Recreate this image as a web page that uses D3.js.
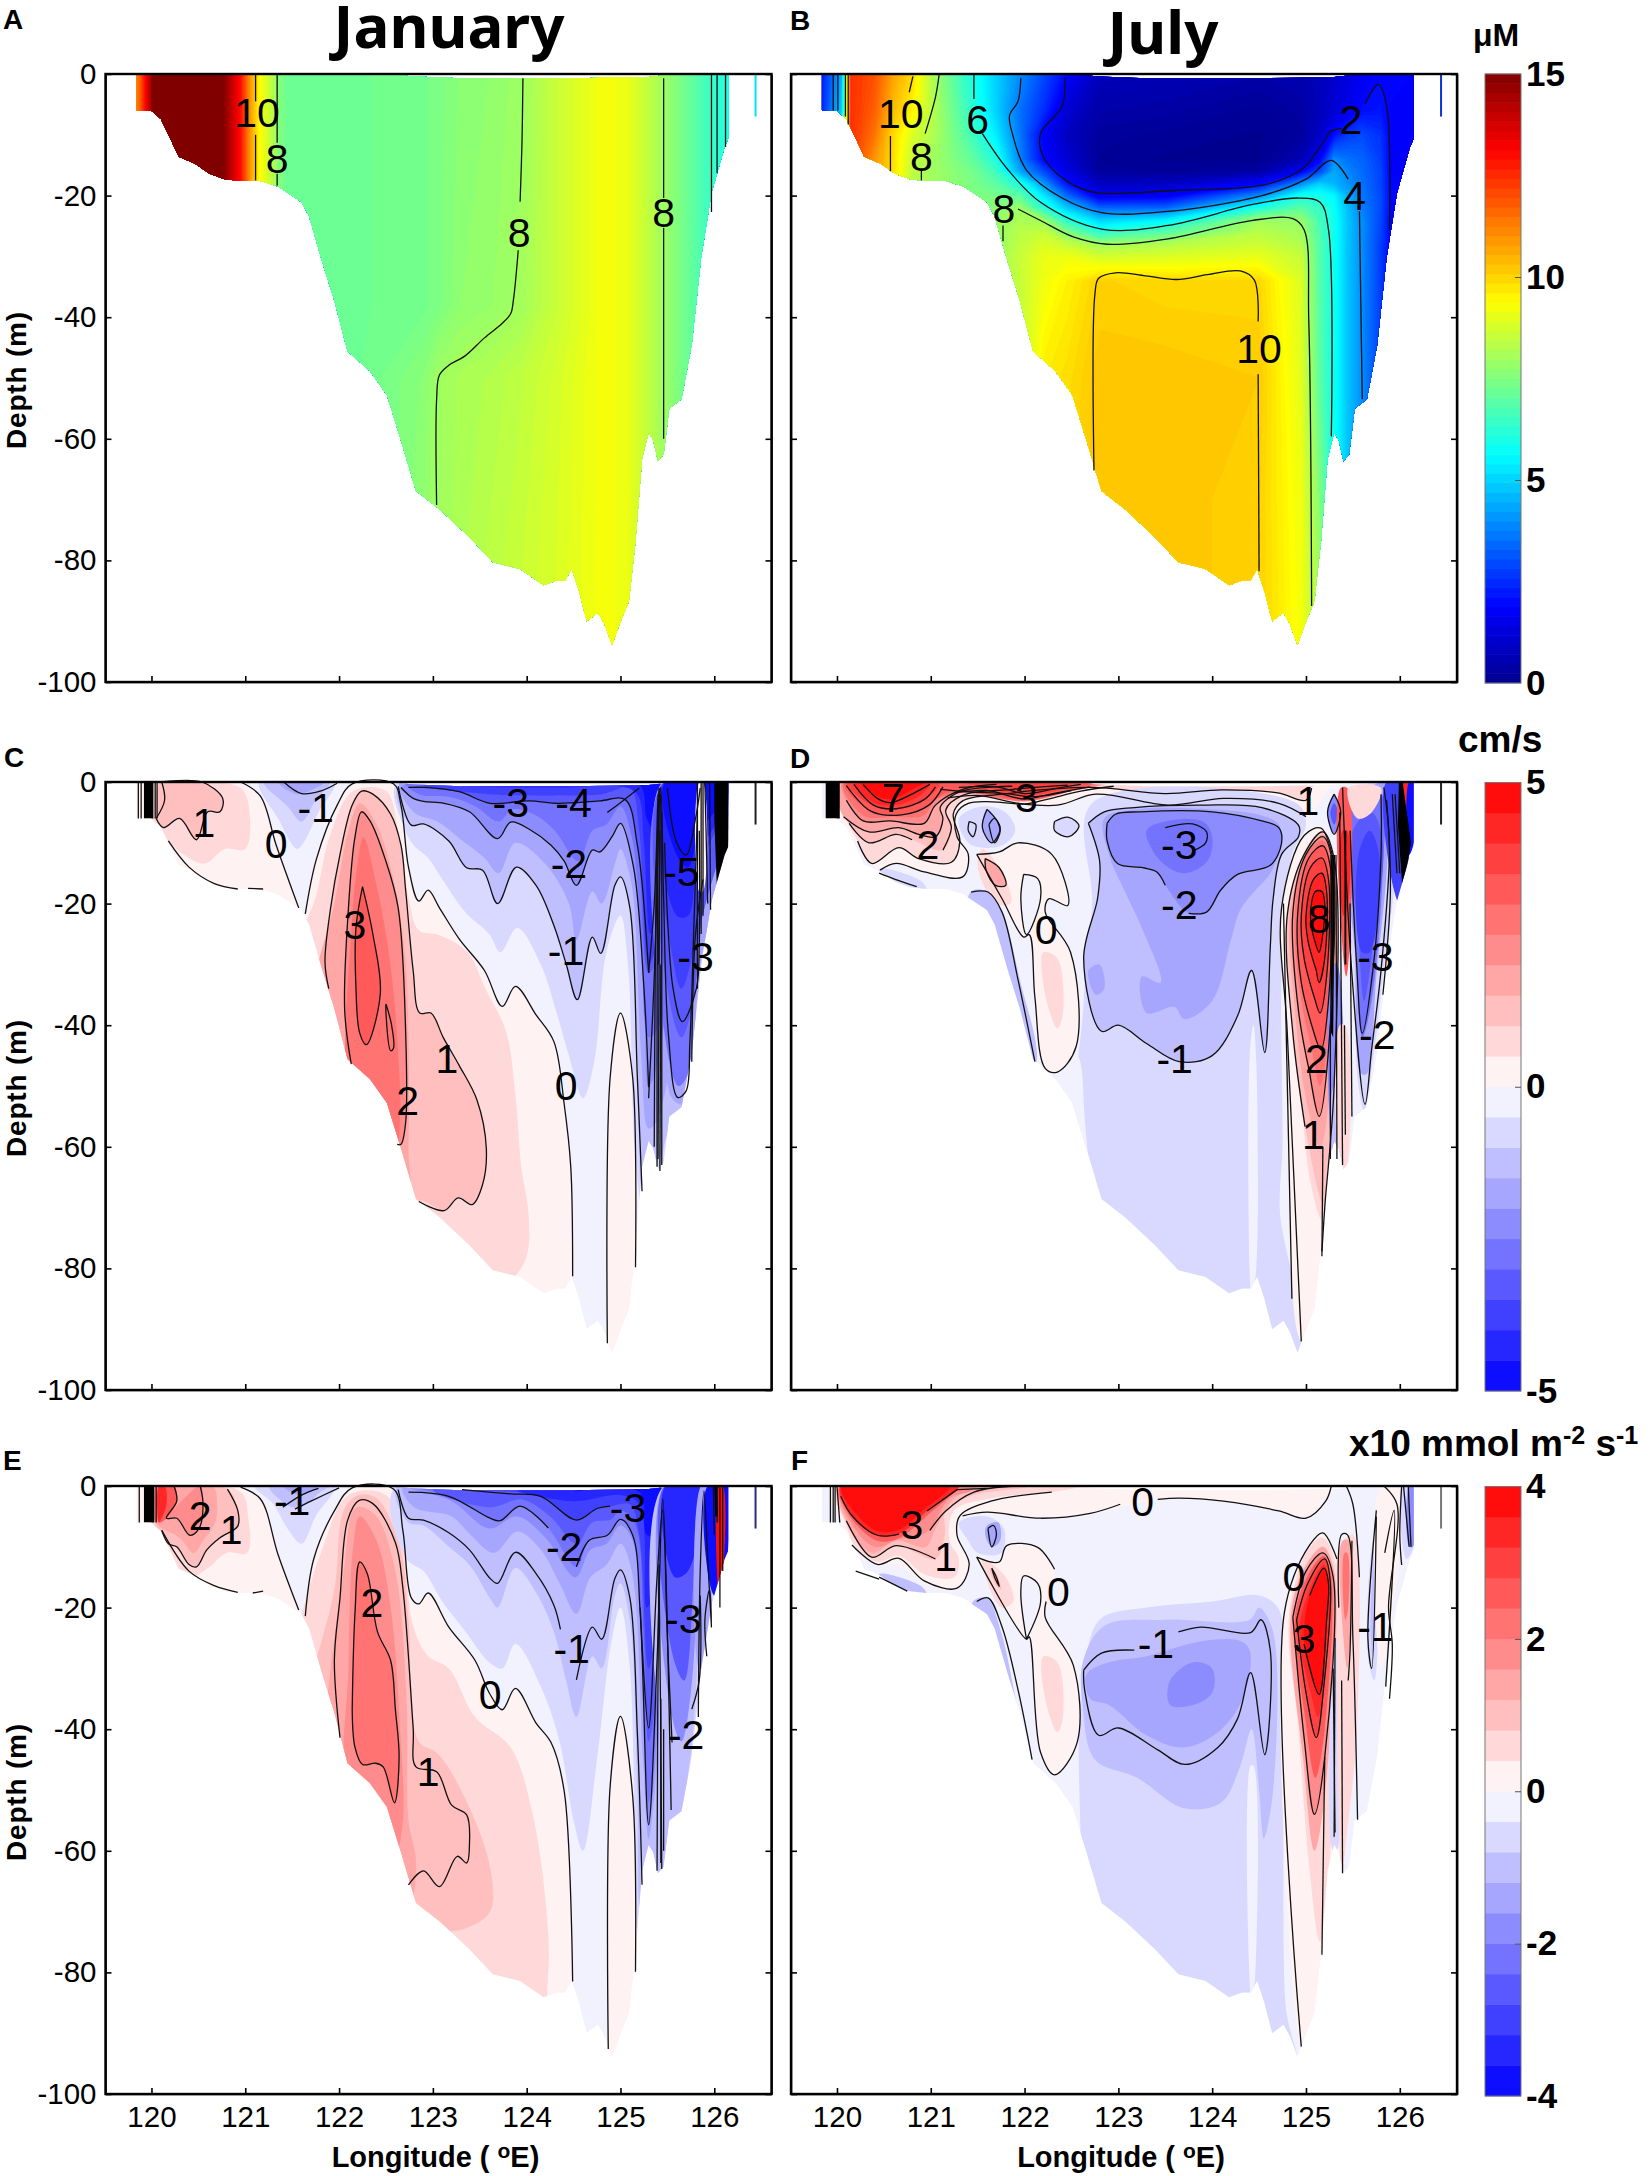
<!DOCTYPE html>
<html>
<head>
<meta charset="utf-8">
<script src="https://d3js.org/d3.v7.min.js"></script>
<style>
body { margin: 0; background: #fff; }
text { font-family: "Liberation Sans", Arial, sans-serif; fill: #000; }
</style>
</head>
<body>
<svg id="fig" width="1650" height="2176"></svg>
<script>
// --- axes
var lonExtent = [119.51, 126.61];
var depthExtent = [-100, 0];
var lonTicks = [120, 121, 122, 123, 124, 125, 126];
var depthTicks = [0, -20, -40, -60, -80, -100];

// --- seabed outline of the section (lon, depth)
var bathy = [[119.84,0],[119.84,-6],[119.995,-6],[120.1,-7.4],[120.2,-10.6],[120.29,-13.6],[120.46,-14.7],[120.62,-16.4],[120.78,-17.3],[120.95,-17.6],[121.16,-17.6],[121.35,-18.5],[121.6,-21.1],[121.68,-23.4],[121.82,-30.9],[121.95,-37.3],[122.09,-45.6],[122.33,-48.9],[122.51,-52.8],[122.66,-60.3],[122.82,-68.6],[123.07,-71.6],[123.39,-76.2],[123.64,-80.3],[123.93,-81.4],[124.18,-84.1],[124.32,-83.3],[124.41,-83.3],[124.48,-81.4],[124.56,-85.2],[124.64,-90],[124.76,-88.6],[124.83,-90.5],[124.91,-93.9],[124.99,-90.5],[125.09,-86.7],[125.16,-76.9],[125.23,-63.3],[125.3,-59],[125.35,-60.3],[125.4,-63.7],[125.46,-62.6],[125.52,-55],[125.65,-53.5],[125.76,-44.5],[125.86,-30.2],[125.97,-19.6],[126.11,-12],[126.15,-10.6],[126.15,0],[125.6,0],[125.3,-0.5],[124.5,-0.7],[123.3,-0.7],[122.8,-0.4],[122.5,0]];

// --- panel A nitrate grid
var aLon = [119.8,119.88,119.95,120.03,120.72,120.8,120.95,121.05,121.15,121.3,121.36,121.45,122.2,122.9,123.04,123.3,123.6,123.95,124.3,124.8,125.05,125.3,125.46,125.7,125.9,126.2];
var aDepth = [0,-38,-50,-95];
var aValues = [
 [11,11.8,13.5,15.5,15.5,14.7,13,11,9.5,8.3,7.6,7.3,7.3,7.4,7.5,7.7,7.8,8,8.6,9.3,9.2,8.5,8,7.3,6.7,6],
 [11,11.8,13.5,15.5,15.5,14.7,13,11,9.5,8.3,7.6,7.3,7.3,7.4,7.5,7.8,7.9,8.1,8.6,9.3,9.2,8.5,8,7.3,6.7,6],
 [11,11.8,13.5,15.5,15.5,14.7,13,11,9.5,8.3,7.6,7.3,7.3,7.7,8,8.2,8.3,8.5,8.8,9.3,9.2,8.5,8,7.3,6.7,6],
 [11,11.8,13.5,15.5,15.5,14.7,13,11,9.5,8.3,7.6,7.3,7.3,7.9,8,8.3,8.5,8.7,8.9,9.3,9.2,8.5,8,7.3,6.7,6]
];
// --- panel B nitrate grid
var bLon = [119.8,120.05,120.15,120.4,120.6,120.8,121.05,121.45,121.7,121.95,122.2,122.45,122.8,123.5,124.5,124.95,125.15,125.3,125.45,125.6,125.8,125.9,126.2];
var bDepth = [0,-6,-10,-14,-16,-18,-20,-22,-24,-26,-28,-30,-34,-50,-70,-95];
var bValues = [
 [1.9,4.5,12.5,12,10.8,10,8,6,5,4,3,2,0.8,0.7,0.5,0.6,0.8,1.1,1.4,1.7,2,2,1.9],
 [2,5,12.5,11.8,10.4,9.6,8.2,6.3,5,3.6,2.6,1.2,0.5,0.4,0.2,0.4,0.8,1.2,1.6,2.1,2.2,1.9,1.8],
 [2,8,12.5,11.5,10,8.9,8.2,6.6,5.4,3.7,1.9,0.9,0.3,0.2,0.1,0.3,1,2.1,2.8,3,2.6,1.9,1.8],
 [2,8,12.5,11,9.9,8.6,8,7.1,6.1,3.9,2,1.2,0.2,0.1,0.1,0.7,1.9,4,3.6,3.4,2.8,1.9,1.8],
 [2,8,12.5,11,9.9,8.5,8,7.4,6.6,4.4,3,1.5,0.3,0.2,0.4,1.8,3,4.4,3.9,3.5,2.9,1.9,1.8],
 [2,8,12.5,11,9.8,8.4,8,7.5,7,6.1,4.2,2.2,0.9,0.9,1.9,4,5,4.6,4.1,3.6,2.9,2,1.9],
 [2,8,12.5,11,9.8,8.4,8,7.6,7.4,7,5.4,3.5,1.6,1.7,4,6,6,5.6,4.5,3.7,3,2,1.9],
 [2,8,12.5,11,9.8,8.4,8,7.7,7.7,8,6.3,4.9,3.4,3.4,6.1,7,6.5,5.8,4.7,3.8,3,2,1.9],
 [2,8,12.5,11,9.8,8.4,8,7.8,7.9,8.2,8,6.3,5,5.5,8,7.9,6.7,5.9,4.8,4,2.9,2,1.9],
 [2,8,12,11,9.8,8.4,8,7.9,7.9,8.4,8.6,7.6,6.3,7,8.4,8.1,6.8,5.9,4.8,4,2.9,2,1.9],
 [2,8,12,11,9.8,8.4,8,8,7.9,8.5,8.9,8.6,8,8.3,8.7,8.3,6.9,5.9,4.8,4,2.8,2,1.9],
 [2,8,12,11,9.8,8.4,8,8,8,8.6,9.1,9.2,8.8,8.9,9.1,8.6,6.9,5.9,4.8,4,2.8,2,1.9],
 [2,8,12,11.5,10,9,8,8,8,8.6,9.2,9.6,10.1,10,10,8.9,6.9,5.9,4.8,4,2.8,2,1.9],
 [2,8,12,11.5,10,9,8,8,8,8.6,9.7,9.9,10.3,10.3,10.2,9,7,5.9,4.8,4,2.8,2,1.9],
 [2,8,12,11.5,10,9,8,8,8,8.6,9.7,10,10.3,10.3,10.1,9.2,7.6,5.9,4.8,4,2.8,2,1.9],
 [2,8,12,11.5,10,9,8,8,8,8.6,9.7,10,10.3,10.3,10.1,9.3,8.2,6,4.8,4,2.8,2,1.9]
];

// --- contour lines, panel A
var linesA = [
 [[121.11,0],[121.11,-4.5]],[[121.11,-10],[121.11,-17.5]],
 [[121.34,0],[121.34,-11.3]],[[121.34,-16.4],[121.34,-18.4]],
 [[123.96,-0.7],[123.95,-11.3],[123.93,-21]],
 [[123.91,-29],[123.86,-37],[123.83,-39.4],[123.74,-41],[123.55,-43.4],[123.34,-46.4],[123.17,-47.9],[123.07,-49.5],[123.04,-53.5],[123.04,-70.9]],
 [[125.46,-0.7],[125.46,-20.4]],[[125.46,-25.3],[125.46,-60]],
 [[125.97,0],[125.97,-22.7]],[[126.03,0],[126.03,-16.3]],[[126.12,0],[126.12,-12]]
];
var labelsA = [["10",121.125,-6.4],["8",121.34,-13.95],["8",123.92,-26.2],["8",125.46,-22.8]];

// --- contour lines, panel B
var linesB = [
 [[119.96,0],[119.96,-6]],[[120.01,0],[120.01,-6]],[[120.09,0],[120.09,-7]],[[120.12,0],[120.12,-8.3]],
 [[120.81,-0.4],[120.77,-3]],[[120.57,-10.2],[120.57,-16]],
 [[121.09,0],[121.05,-3.8],[120.94,-9.8]],[[120.9,-15.8],[120.9,-17.5]],
 [[121.46,0],[121.46,-4.1]],
 [[121.55,-9.8],[121.81,-15.5],[122.17,-21.1],[122.82,-25.5],[123.53,-24.9],[124.42,-21.5],[124.92,-20.4],[125.15,-21.1],[125.24,-25.6],[125.27,-59.6]],
 [[121.96,-0.6],[121.93,-4.5],[121.84,-6.8],[121.87,-9.8],[122.02,-15.8],[122.4,-20.4],[122.82,-22.8],[123.53,-22.6],[124.53,-20],[125,-17.3],[125.27,-14.2],[125.45,-17.3]],
 [[125.57,-22.6],[125.6,-53.5]],
 [[122.43,-0.6],[122.4,-5.3],[122.17,-9.8],[122.2,-13.6],[122.46,-17.7],[122.76,-19.5],[123.53,-19.2],[124.59,-18.1],[124.97,-15.5],[125.15,-12],[125.27,-9.4],[125.38,-9]],
 [[125.63,-4.9],[125.77,-1.7],[125.86,-5.3],[125.89,-25.6]],
 [[121.77,-24.9],[121.77,-27.5]],
 [[121.93,-22.2],[122.17,-24.1],[122.52,-26.8],[122.88,-28],[123.53,-27.1],[124.42,-24.1],[124.86,-23.8],[124.98,-25.6],[125.03,-40.7],[125.06,-87.5]],
 [[122.74,-65.2],[122.75,-36.2],[122.79,-33.6],[122.97,-32.7],[123.29,-33.2],[123.62,-33.8],[123.95,-33],[124.3,-32.4],[124.45,-33.9],[124.49,-40.7]],
 [[124.49,-49.4],[124.5,-81.8]]
];
var labelsB = [["10",120.68,-6.6],["8",120.9,-13.6],["6",121.5,-7.5],["8",121.78,-22.2],["2",125.48,-7.6],["4",125.52,-20],["10",124.5,-45.3]];

// --- panel C contours
var cZero1 = [[120.95,0],[121.16,-2.3],[121.33,-10.4],[121.57,-20.7]];
var cZero2 = [[121.64,-21.7],[121.76,-12.6],[121.98,-3.8],[122.14,-0.3],[122.58,-0.3],[122.66,-3.8],[122.74,-14],[122.85,-19.6],[122.95,-17.8],[123.07,-20.7],[123.28,-25.8],[123.55,-31],[123.74,-36.9],[123.88,-33.6],[124.1,-38.3],[124.29,-42.7],[124.4,-53],[124.47,-63.3],[124.49,-81.3]];
var cZero3 = [[124.86,-92.3],[124.89,-48.6],[125,-38],[125.13,-48.6],[125.16,-79.8]];
var cPos1 = [[121.89,-34],[121.85,-29.6],[121.91,-20.7],[122.01,-11.9],[122.14,-3.8],[122.24,-1.5],[122.36,-2],[122.55,-5.3],[122.66,-10.4],[122.71,-17.8],[122.79,-31],[122.86,-38],[122.98,-38],[123.11,-42],[123.28,-46.6],[123.47,-52.3],[123.57,-60.3],[123.53,-66.2],[123.42,-69.5],[123.27,-68.4],[123.12,-70.5],[122.85,-69]];
var cPos2 = [[122.13,-46.4],[122.06,-37.6],[122.1,-20.7],[122.17,-9],[122.24,-4.9],[122.33,-6.4],[122.49,-12.6],[122.63,-20.7],[122.71,-41.3],[122.71,-56],[122.66,-59.6],[122.62,-59.6]];
var cPos3 = [[122.25,-17.2],[122.18,-24],[122.18,-33.9],[122.22,-41.3],[122.29,-43.2],[122.44,-34.7],[122.36,-25],[122.25,-17.2]];
var cPos3b = [[122.5,-36.5],[122.56,-40],[122.58,-43.8],[122.55,-44.2],[122.5,-38],[122.5,-36.5]];
var cLeft1 = [[120.1,0],[120.54,0],[120.76,-2.7],[120.73,-4.9],[120.6,-4.9],[120.48,-9.5],[120.3,-6],[120.13,-7.5],[120.05,-6]];
var cNegA = [[122.74,-0.9],[122.9,-0.9],[123.28,-1.6],[123.61,-3.5],[124.02,-3.1],[124.34,-3.5],[124.78,-3.1],[125.05,-2.9],[125.18,-10.4],[125.3,-31.4]];
var cNegB = [[122.66,-0.9],[122.79,-2.7],[122.9,-3.2],[123.12,-3.5],[123.39,-4.9],[123.69,-9.3],[123.83,-6.6],[124.04,-7.9],[124.26,-10.4],[124.4,-13],[124.53,-17],[124.7,-11.2],[124.78,-11.5],[124.91,-9],[125,-6.8],[125.14,-14.1],[125.25,-33.9],[125.3,-50.2]];
var cNegC = [[122.63,-0.7],[122.77,-7.1],[122.9,-6.9],[123.17,-9.7],[123.36,-14.1],[123.53,-14.5],[123.69,-20],[123.89,-14],[124.1,-17],[124.29,-23.6],[124.42,-29.9],[124.54,-35.8],[124.7,-25.5],[124.79,-28.2],[124.94,-17],[125,-15.6],[125.1,-20.7],[125.18,-48.6],[125.23,-67.3]];

var bandsC = [
 [0.25,[[119.8,0],[120.95,0],[121.16,-2.3],[121.33,-10.4],[121.57,-20.7],[121.57,-25],[119.8,-25]]],
 [0.25,[[121.6,-100],[121.64,-21.7],[121.76,-12.6],[121.98,-3.8],[122.14,-0.3],[122.58,-0.3],[122.66,-3.8],[122.74,-14],[122.85,-19.6],[122.95,-17.8],[123.07,-20.7],[123.28,-25.8],[123.55,-31],[123.74,-36.9],[123.88,-33.6],[124.1,-38.3],[124.29,-42.7],[124.4,-53],[124.47,-63.3],[124.49,-81.3],[124.49,-100]]],
 [0.25,[[124.86,-100],[124.86,-92.3],[124.89,-48.6],[125,-38],[125.13,-48.6],[125.16,-79.8],[125.16,-100]]],
 [0.75,[[120.2,0],[120.95,-1],[121.05,-6],[121,-11],[120.78,-11],[120.57,-13.4],[120.35,-12],[120.13,-9],[120,-6],[120,0]]],
 [1.25,cLeft1],
 [0.75,[[121.5,-30],[121.75,-19],[121.9,-9],[122.15,-1.5],[122.5,-1.5],[122.63,-8],[122.74,-19],[122.85,-24.4],[123.07,-25.2],[123.37,-28],[123.56,-34],[123.78,-41],[123.88,-51.5],[123.94,-63],[124.02,-71],[124,-78],[123.8,-83],[123,-100],[121.5,-100]]],
 [1.25,cPos1.concat([[122.6,-100],[121.6,-100],[121.6,-34]])],
 [1.75,[[121.7,-36],[121.95,-20],[122.1,-8],[122.22,-3.5],[122.4,-7],[122.58,-16],[122.7,-28],[122.74,-42],[122.74,-60],[122.7,-72],[121.7,-72]]],
 [2.25,cPos2.concat([[122,-60]])],
 [2.75,[[122.1,-50],[122.13,-25],[122.2,-13],[122.26,-9],[122.4,-17],[122.52,-27],[122.6,-38],[122.65,-55],[122.6,-60],[122.4,-60]]],
 [3.25,cPos3],
 // blues, shelf patch near the surface
 [-0.75,[[121.15,0],[121.35,-6],[121.55,-11],[121.62,-10],[121.78,-5],[121.95,0]]],
 [-1.25,[[121.2,0],[121.45,-4],[121.6,-6.5],[121.75,-3],[121.9,0]]],
 [-1.75,[[121.35,0],[121.55,-2],[121.75,-1],[121.85,0]]],
 // blues
 [-0.75,[[122.62,0],[122.68,-7],[122.8,-10.5],[122.95,-12.5],[123.1,-16],[123.35,-21.5],[123.6,-25],[123.72,-28],[123.9,-24],[124.15,-30],[124.32,-38],[124.45,-45],[124.6,-52],[124.72,-46],[124.85,-28],[125,-22],[125.08,-30],[125.15,-60],[125.23,-70],[125.3,-62],[125.36,-64],[125.4,-66],[125.5,-62],[125.7,-55],[125.9,-30],[126.15,-10],[126.15,0]]],
 [-1.25,cNegC.concat([[125.3,-62],[125.42,-62],[125.5,-58],[125.7,-55],[125.88,-28],[126.15,-10],[126.15,0]])],
 [-1.75,[[122.65,0],[122.8,-5],[123.05,-6.5],[123.3,-9.5],[123.55,-12.5],[123.7,-15],[123.88,-10],[124.2,-13.5],[124.45,-20],[124.53,-26],[124.7,-18],[124.8,-20],[124.95,-13],[125,-11],[125.12,-17],[125.22,-45],[125.3,-57],[125.41,-55],[125.41,0]]],
 [-2.25,cNegB.concat([[125.41,-45],[125.41,0]])],
 [-2.75,[[122.7,0],[122.85,-2],[123.2,-2.5],[123.45,-4],[123.7,-6.5],[123.85,-4.5],[124.1,-5.5],[124.3,-8],[124.55,-13],[124.7,-8],[124.85,-7],[125,-4],[125.12,-9],[125.22,-25],[125.3,-42],[125.41,-40],[125.41,0]]],
 [-3.25,cNegA.concat([[125.41,-28],[125.41,0]])],
 [-3.75,[[122.9,-0.7],[123.6,-2],[124.3,-2.2],[124.8,-2],[125.1,-1],[125.2,-8],[125.3,-30],[125.41,-25],[125.41,0]]],
 [-4.25,[[123.3,-0.7],[124.4,-0.9],[125,-0.7],[125.18,-2],[125.25,-10],[125.32,-25],[125.41,-20],[125.41,0]]],
 [-4.75,[[124.3,-0.5],[125.2,-0.5],[125.28,-6],[125.36,-8],[125.41,-6],[125.41,0]]],
 [-1.75,[[125.45,0],[125.48,-30],[125.55,-52],[125.7,-53],[125.85,-30],[126.15,-10],[126.15,0]]],
 [-2.75,[[125.46,0],[125.52,-46],[125.62,-50],[125.72,-48],[125.78,-30],[125.9,-15],[126.15,-8],[126.15,0]]],
 [-3.25,[[125.46,0],[125.55,-38],[125.65,-42],[125.78,-36],[125.85,-24],[126.15,-6],[126.15,0]]],
 [-3.75,[[125.47,0],[125.57,-30],[125.65,-34],[125.8,-26],[125.9,-12],[126.15,-4],[126.15,0]]],
 [-4.25,[[125.47,0],[125.6,-22],[125.72,-22],[125.84,-12],[126.15,-3],[126.15,0]]],
 [-4.75,[[125.48,0],[125.6,-12],[125.72,-14],[125.85,-8],[126.15,-2],[126.15,0]]],
 [0.25,[[125.84,0],[125.88,0],[125.88,-18],[125.84,-18]]]
];
var darkC = [
 [[119.92,0],[120.02,0],[120.02,-6],[119.92,-6]],
 [[126,0],[126.15,0],[126.15,-10.6],[126.03,-18.5],[126,-6]]
];
var linesC = [
 cZero1,cZero2,cZero3,cPos1,cPos2,cPos3,cPos3b,cNegA,cNegB,cNegC,cLeft1,
 [[120.18,-9.7],[120.4,-14],[120.67,-16.7],[120.92,-17.6]],[[121.03,-17.5],[121.19,-17.6]],
 [[120.11,0],[120.14,-3],[120.05,-6]],
 [[121.41,0],[121.6,-1.9],[121.8,-1.5],[121.98,-0.2]],
 [[119.86,0],[119.86,-6]],[[119.89,0],[119.89,-6]],[[120.04,0],[120.04,-6]],[[120.06,0],[120.06,-6]],
 [[125.39,-63.3],[125.41,-4.6],[125.43,-0.9],[125.46,-19.2],[125.51,-41.3],[125.61,-51.9],[125.7,-50.8],[125.74,-42.7],[125.78,-25],[125.82,-5]],
 [[125.36,-60],[125.39,-10],[125.42,-1]],[[125.44,-63],[125.44,-5]],[[125.42,-64],[125.43,-30]],[[125.4,-62],[125.42,-8]],[[125.405,-30],[125.425,-2]],
 [[125.47,-10],[125.56,-33.9],[125.66,-39.4],[125.81,-33.9],[125.84,-26.6],[125.84,-8]],
 [[125.3,-31.4],[125.36,-20],[125.4,-2]],[[125.3,-52],[125.37,-28],[125.41,-1]],
 [[125.82,0],[125.82,-34]],[[125.86,0],[125.86,-25]],[[125.88,0],[125.88,-22]],[[125.9,0],[125.93,-20]],[[125.95,0],[125.96,-21]],[[125.76,-46],[125.8,-25],[125.88,-16]],[[125.5,-1],[125.6,-10],[125.7,-12],[125.8,-6],[125.85,-1]],
 [[124.86,-5],[124.95,-4],[125.2,-1]]
];
var labelsC = [["1",120.56,-6.8],["0",121.33,-10.2],["-1",121.75,-4.2],["3",122.17,-23.6],["2",122.73,-52.5],["1",123.15,-45.5],["0",124.42,-50],["-3",123.83,-3.5],["-4",124.5,-3.5],["-2",124.45,-13.5],["-1",124.42,-27.8],["-5",125.65,-14.8],["-3",125.8,-28.8]];

// --- panel D contours
var dZeroTop = [[120.46,-14.5],[120.63,-13.4],[120.93,-14.8],[121.34,-15.6],[121.4,-11.9],[121.28,-9],[121.27,-5.3],[121.4,-3.5],[122.35,-3.8],[122.76,-2],[123.53,-3.8],[124.12,-2.7],[124.71,-3.5],[125,-5.7]];
var dW1 = [[120.22,-9.7],[120.37,-13.4],[120.66,-10.8],[120.87,-12.6],[121.22,-13.2],[121.31,-9.7],[121.24,-5.3],[121.34,-3.1],[121.76,-2],[122.7,-0.9],[123.5,-1.9],[124.1,-1.3],[124.7,-1.8],[125,-3],[125.06,-1]];
var dW2 = [[120.13,-6.8],[120.34,-10],[120.63,-8.6],[120.8,-9.5]];
var dW2b = [[121.13,-11.2],[121.22,-7.5],[121.16,-4.6],[121.34,-2.2],[121.87,-1.2],[122.46,-0.5]];
var dW3 = [[120.07,-5.7],[120.34,-8.2],[120.66,-7.5],[120.87,-8.6],[121.05,-9],[121.13,-6],[121.1,-4.2],[121.31,-1.6],[121.87,-0.7]];
var dW4 = [[120.1,-3],[120.28,-6.4],[120.57,-6.4],[120.93,-6.8],[121.05,-3.8],[121.34,-1.2],[121.7,-0.4]];
var dA1 = [[120.1,-0.6],[120.36,-4.8],[120.69,-5.4],[120.98,-3.8],[121.13,-0.8]];
var dA2 = [[120.18,-0.4],[120.39,-3.8],[120.63,-4.4],[120.93,-2.9],[121.05,-0.8]];
var dA3 = [[120.28,-0.4],[120.43,-2.7],[120.57,-3.4],[120.81,-1.9],[120.99,-0.4]];
var dS1 = [[121.18,-2.6],[121.5,-2.2],[122,-3.6],[122.25,-2.8],[122.6,-1.5],[122.95,-0.7]];
var dS2 = [[121.25,-1.8],[121.6,-1.4],[122,-2.8],[122.3,-1.9],[122.7,-0.8]];
var dS3 = [[121.3,-0.9],[121.7,-0.8],[122,-1.9],[122.35,-1],[122.6,-0.4]];
var dS4 = [[121.1,-1.2],[121.4,-1.6],[121.8,-1.9],[122.1,-2.4],[122.5,-1.4]];
var dPosPatch = [[121.49,-11.9],[121.73,-11.5],[121.93,-10],[122.29,-11.9],[122.46,-20.3],[122.26,-19.2],[122.22,-21.4],[122.49,-28],[122.55,-43.5],[122.35,-47.7],[122.22,-47.1],[122.11,-35.4],[122.05,-25.1],[121.99,-25.5],[121.76,-19.2],[121.49,-11.9]];
var dHole = [[121.99,-15.2],[122.14,-15.9],[122.17,-19.2],[122.02,-25.1],[121.96,-19.2],[121.99,-15.2]];
var dNeg1 = [[122.68,-6.8],[122.85,-4.9],[123.17,-4.2],[123.88,-3.8],[124.53,-4.2],[124.92,-7.1],[124.92,-9],[124.74,-11.9],[124.65,-19.2],[124.62,-27],[124.56,-44.5],[124.42,-31],[124.27,-38.5],[124.0,-45],[123.65,-46],[123.3,-43],[123,-40],[122.82,-41],[122.63,-29],[122.78,-19],[122.8,-13],[122.68,-6.8]];
var dNeg2 = [[122.88,-6.8],[122.97,-5.3],[123.23,-4.9],[124,-4.9],[124.53,-6.4],[124.71,-7.5],[124.74,-10],[124.62,-13.7],[124.27,-15.2],[124.09,-17.8],[123.94,-21.4],[123.75,-21.6]];
var dNeg2b = [[123.5,-17],[123.41,-14.8],[123.26,-14.1],[122.99,-13.4],[122.88,-9.7],[122.88,-6.8]];
var dNeg3 = [[123.5,-7.5],[123.79,-6.9],[123.94,-8.2],[123.93,-10],[123.8,-11.3]];
var dOval0 = [[124.95,-92],[124.8,-41],[124.74,-20.7],[124.98,-8.8],[125.16,-7.6],[125.28,-12]];
var dOval1 = [[124.99,-56.7],[124.86,-41.3],[124.8,-22],[124.98,-11.9],[125.18,-8.2],[125.3,-12.6],[125.3,-50],[125.2,-70],[125.17,-77.2]];
var dOval2 = [[125.04,-47.9],[124.92,-37.6],[124.86,-21.4],[125,-11.9],[125.18,-9],[125.28,-13],[125.25,-42],[125.14,-55],[125.04,-47.9]];
var dOval3 = [[125.08,-41],[124.95,-33],[124.91,-22],[125.03,-12.5],[125.18,-10.5],[125.26,-14],[125.24,-36],[125.16,-44],[125.08,-41]];
var dOval4 = [[125.1,-36],[124.98,-29],[124.95,-22],[125.05,-14],[125.17,-12.5],[125.24,-16],[125.22,-32],[125.15,-38],[125.1,-36]];
var dOval5 = [[125.11,-31],[125.02,-26],[125,-22],[125.08,-16],[125.17,-15],[125.22,-18],[125.2,-29],[125.14,-33],[125.11,-31]];
var dOval6 = [[125.11,-27],[125.06,-24],[125.05,-21],[125.1,-18],[125.17,-18],[125.2,-20],[125.18,-25],[125.14,-28],[125.11,-27]];
var dBlueTop = [[125.3,-2],[125.37,-4.9],[125.3,-8.6],[125.23,-4.9],[125.3,-2]];
var dValley1 = [[125.39,-0.9],[125.48,-29.5],[125.63,-53],[125.7,-44],[125.8,-31],[125.89,-10.4],[125.83,-0.9]];
var dValley2 = [[125.47,-8],[125.54,-30],[125.6,-41.3],[125.72,-30],[125.8,-12],[125.8,-2]];

var bandsD = [
 [0.25,[[119.95,0],[119.95,-6],[120.2,-10],[120.46,-14.5]].concat(dZeroTop.slice(1),[[125.2,-2],[125.25,0]])],
 [0.75,[[120,0],[120.1,-6]].concat(dW1,[[125.1,0]])],
 [1.25,[[120.02,0]].concat(dW2,dW2b,[[122.6,0]])],
 [1.75,[[120.04,0]].concat(dW3,[[122.6,-0.5],[122.8,0]])],
 [2.25,[[120.06,0]].concat(dW4,[[122.2,-1.8],[122.8,-0.6],[122.9,0]])],
 [2.75,[[120.07,0],[120.28,-5.5],[120.6,-5.7],[120.93,-5.5],[121.05,-3],[121.34,-1.8],[122,-3.2],[122.6,-1],[122.8,0]]],
 [3.25,[[120.08,0],[120.36,-4.8],[120.69,-5.4],[120.98,-3.8],[121.15,-1.9],[121.5,-1.8],[122,-3],[122.3,-2.2],[122.7,-0.5],[122.75,0]]],
 [3.75,[[120.1,0],[120.39,-4],[120.63,-4.6],[120.93,-3],[121.1,0]]],
 [3.75,[[121.35,0],[121.6,-1],[122,-2.3],[122.35,-1.4],[122.6,0]]],
 [4.25,[[120.18,0],[120.39,-3.4],[120.63,-3.8],[120.9,-2],[121,0]]],
 [4.75,[[120.25,0],[120.43,-2.4],[120.6,-2.8],[120.85,-0.8],[120.95,0]]],
 [-0.75,[[122.72,-3.5],[124.9,-3.5],[125,-7],[124.85,-12],[124.8,-20],[124.74,-32],[124.75,-60],[124.72,-70],[124.88,-100],[122.6,-100],[122.63,-36],[122.72,-20]]],
 [-0.25,[[124.4,-45],[124.44,-40],[124.47,-46],[124.47,-80],[124.42,-85]]],
 [-0.25,[[122.55,-45],[122.64,-55],[122.65,-100],[122.2,-100],[122.2,-52]]],
 [-1.25,dNeg1],
 [-1.75,[[122.85,-6],[122.9,-12],[123.1,-19],[123.25,-24],[123.45,-33],[123.25,-32],[123.3,-38],[123.6,-37],[123.7,-39],[124,-36],[124.2,-26],[124.3,-21],[124.45,-18],[124.62,-15],[124.74,-10],[124.71,-7],[124.53,-5.5],[123.9,-4.4],[123.2,-4.5]]],
 [-1.75,[[122.68,-31],[122.8,-30],[122.85,-34],[122.76,-35]]],
 [-2.25,dNeg2.concat(dNeg2b)],
 [-2.75,[[123.3,-8],[123.5,-6.5],[123.9,-6.5],[124,-9],[123.95,-13],[123.7,-15],[123.45,-13]]],
 // oval, red side
 [0.25,dOval0.concat([[125.3,-62],[125.2,-80],[125.05,-92]])],
 [0.75,[[124.88,-34],[124.8,-22],[124.98,-11.5],[125.18,-8],[125.3,-12.6],[125.3,-55],[125.17,-72],[125.05,-66],[124.95,-52]]],
 [1.25,dOval1.slice(0,8)],
 [1.75,[[125,-52],[124.88,-37],[124.83,-21.5],[125,-12],[125.18,-8.6],[125.29,-13],[125.28,-46],[125.15,-60]]],
 [2.25,dOval2],[2.75,[[125.06,-44],[124.94,-35],[124.88,-21.8],[125,-12],[125.18,-9.6],[125.27,-13.5],[125.25,-39],[125.15,-50]]],
 [3.25,dOval3],[3.75,dOval4],[4.25,dOval5],[4.75,dOval6],
 // bits around the mid shelf
 [0.25,dPosPatch],[-0.25,dHole],
 [0.75,[[122.2,-28],[122.35,-29],[122.41,-38],[122.35,-40.5],[122.22,-35]]],
 [0.75,[[121.55,-11],[121.8,-16],[121.85,-20],[121.7,-20],[121.5,-14]]],
 [1.75,[[121.58,-12.6],[121.73,-14.1],[121.8,-17],[121.69,-17],[121.59,-14.5]]],
 [-0.75,[[122.32,-6.5],[122.47,-5.8],[122.58,-7.2],[122.47,-9],[122.32,-8]]],
 [-0.75,[[121.3,-6],[121.55,-4],[121.8,-5],[121.9,-8],[121.75,-10.5],[121.45,-10.5],[121.35,-9]]],
 [-1.25,[[121.62,-7],[121.68,-6],[121.74,-8],[121.68,-10]]],
 [-1.75,[[121.6,-4.5],[121.74,-7.5],[121.65,-10],[121.55,-7.5]]],
 [-1.25,[[121.43,-18],[121.6,-18],[121.76,-21.4],[121.95,-32.5],[122.13,-46],[122,-50],[121.4,-30]]],
 [-0.75,[[120.45,-14.3],[120.9,-16.3],[120.95,-17.7],[120.5,-16.5]]],
 // right side
 [-2.25,[[125.28,-30],[125.33,-30],[125.36,-60],[125.3,-62]]],
 [-1.25,[[125.3,-50],[125.36,-50],[125.39,-64],[125.3,-62]]],
 [0.75,[[125.36,-40],[125.42,-40],[125.42,-64],[125.38,-64]]],
 [-0.75,[[125.43,-3],[125.5,-30],[125.56,-50],[125.62,-54],[125.72,-45],[125.85,-28],[125.95,-15],[125.9,0]]],
 [-1.75,[[125.45,-5],[125.52,-28],[125.59,-48],[125.65,-48],[125.75,-32],[125.87,-12],[125.85,0]]],
 [-2.75,[[125.47,-5],[125.53,-25],[125.6,-42],[125.7,-36],[125.82,-14],[125.8,-2]]],
 [-3.25,[[125.5,-8],[125.56,-25],[125.62,-36],[125.72,-26],[125.82,-10],[125.7,-5]]],
 [-3.75,[[125.56,-12],[125.6,-28],[125.68,-28],[125.78,-12],[125.68,-8]]],
 [-2.25,dBlueTop],
 [-3.25,[[125.3,-3.5],[125.34,-5],[125.3,-7],[125.26,-5]]],
 [3.25,[[125.37,-1],[125.44,-1],[125.47,-25],[125.43,-32],[125.38,-25]]],
 [4.25,[[125.39,-8],[125.44,-8],[125.45,-20],[125.4,-22]]],
 [0.75,[[125.45,-1],[125.8,-1],[125.7,-5],[125.55,-6]]],
 [-3.75,[[125.86,0],[126.05,0],[126.1,-12],[126.0,-20],[125.9,-15]]],
 [4.25,[[126.05,0],[126.1,0],[126.1,-5],[126.05,-5]]],
 [-4.75,[[126.1,0],[126.15,0],[126.15,-10],[126.1,-12]]]
];
var darkD = [
 [[119.88,0],[120.03,0],[120.03,-6],[119.88,-6]],
 [[125.26,-12],[125.31,-12],[125.29,-42],[125.26,-41]],
 [[125.99,0],[126.03,0],[126.12,-10],[126.03,-18],[125.98,-7]],
 [[125.41,-8],[125.43,-8],[125.43,-30],[125.41,-30]]
];
var linesD = [
 dZeroTop,dW1,dW2,dW2b,dW3,dW4,dA1,dA2,dA3,dS1,dS2,dS3,dS4,dPosPatch,dHole,dNeg1,dNeg2,dNeg2b,dNeg3,
 dOval0,dOval1,dOval2,dOval3,dOval4,dOval5,dOval6,dBlueTop,dValley1,dValley2,
 [[124.76,-20],[124.85,-85]],[[125.18,-60],[125.17,-78]],
 [[125.26,-40],[125.26,-62]],[[125.32,-12],[125.33,-62]],[[125.36,-5],[125.39,-63]],[[125.41,-40],[125.42,-58]],[[125.47,-20],[125.49,-55]],
 [[125.86,-3],[125.9,-18],[125.82,-35]],[[125.92,-2],[125.97,-15]],[[125.95,-2],[126,-15]],
 [[121.58,-12.6],[121.73,-14.1],[121.8,-17],[121.69,-17],[121.59,-14.5],[121.58,-12.6]],
 [[121.62,-7],[121.68,-6],[121.74,-8],[121.68,-10],[121.62,-7]],
 [[121.6,-4.5],[121.74,-7.5],[121.65,-10],[121.55,-7.5],[121.6,-4.5]],
 [[121.41,-6.5],[121.48,-7],[121.45,-9],[121.4,-8],[121.41,-6.5]],
 [[122.32,-6.5],[122.47,-5.8],[122.58,-7.2],[122.47,-9],[122.32,-8],[122.32,-6.5]],
 [[121.43,-18.1],[121.61,-18.1],[121.76,-21.4],[121.93,-32.5],[122.11,-46]],
 [[120.45,-15],[120.62,-16],[120.85,-17.2]]
];
var labelsD = [["7",120.6,-2.6],["3",122.02,-2.7],["2",120.97,-10.4],["0",122.23,-24.4],["-3",123.65,-10.3],["-2",123.65,-20.3],["-1",123.6,-45.5],["1",125.02,-3.2],["8",125.14,-22.5],["2",125.11,-45.5],["1",125.08,-58],["-3",125.74,-28.8],["-2",125.76,-41.6]];

// --- panel E contours
var eZero1 = [[120.95,-0.2],[121.16,-2.1],[121.35,-11.3],[121.57,-20.4]];
var eZero2 = [[121.64,-21.4],[121.73,-12],[121.95,-4.1],[122.14,-0.3],[122.58,-0.5],[122.68,-7.3],[122.77,-18.4],[122.85,-19.4],[122.95,-17.6],[123.17,-23.2],[123.45,-28.7],[123.6,-34],[123.74,-36.8],[123.88,-33.3],[124.1,-39],[124.26,-42.2],[124.4,-50.2],[124.49,-81.5]];
var eZero3 = [[124.87,-92.6],[124.89,-49.4],[125,-37.9],[125.13,-51],[125.16,-79.9]];
var ePos1 = [[122.01,-41.4],[121.95,-28.7],[122.01,-18.4],[122.09,-5.7],[122.21,-2.4],[122.36,-2.9],[122.6,-9.3],[122.68,-16.8],[122.79,-39.8],[122.82,-46.2],[123.04,-47],[123.2,-52.5],[123.36,-54.1],[123.39,-58.9],[123.36,-62],[123.26,-60.9],[123.07,-65.9],[122.9,-63.3],[122.74,-65.6]];
var ePos2 = [[122.14,-36.7],[122.17,-20.8],[122.22,-12.5],[122.3,-14.4],[122.41,-24],[122.55,-28.7],[122.6,-36.7],[122.64,-44.6],[122.59,-52.1],[122.47,-46.2],[122.39,-45.6],[122.25,-45.8],[122.17,-43],[122.14,-36.7]];
var eL2 = [[120.24,0],[120.27,-2.5],[120.16,-5.3],[120.27,-5.3],[120.41,-8.1],[120.51,-6.9],[120.55,-3],[120.52,0]];
var eL1 = [[120.81,-0.5],[120.92,-4],[120.92,-6.6],[120.73,-8.5],[120.59,-10.5],[120.48,-13.3],[120.4,-12.9],[120.27,-10],[120.18,-9.5],[120.11,-7.3]];
var eNeg1 = [[122.63,-0.6],[122.74,-5.3],[122.9,-5.6],[123.17,-7.7],[123.39,-10.5],[123.61,-15.2],[123.69,-16],[123.88,-10.9],[124.1,-14.4],[124.29,-19.6],[124.36,-23.6]];
var eNeg1b = [[124.53,-31.9],[124.7,-23.2],[124.8,-25.2],[124.94,-15.2],[125,-13.8],[125.1,-18.4],[125.18,-40.6],[125.23,-65.6]];
var eNeg2 = [[122.74,-1],[123.17,-1.7],[123.61,-5.3],[123.72,-5.7],[123.93,-3.3],[124.23,-6.9]];
var eNeg2b = [[124.53,-13.3],[124.67,-8.9],[124.86,-8.1],[125,-5.5],[125.13,-8.1],[125.21,-20.8],[125.3,-55.7],[125.39,-28.7],[125.45,-2.1],[125.54,-53.3]];
var eNeg3 = [[123.31,-0.6],[123.83,-1.3],[124.15,-1.7],[124.53,-5.6],[124.75,-3.7],[124.89,-3.3]];

var bandsE = [
 [0.2,[[119.8,0],[120.95,-0.2],[121.16,-2.1],[121.35,-11.3],[121.57,-20.4],[121.57,-25],[119.8,-25]]],
 [0.2,[[121.6,-100]].concat(eZero2,[[124.49,-100]])],
 [0.2,[[124.87,-100]].concat(eZero3,[[125.16,-100]])],
 [0.6,[[120.05,0],[120.95,-1],[121.03,-5],[121.02,-11],[120.8,-11],[120.6,-13.5],[120.4,-15],[120,-8]]],
 [1,[[120.05,0],[120.81,-0.5],[120.92,-4],[120.92,-6.6],[120.73,-8.5],[120.59,-10.5],[120.48,-13.3],[120.4,-12.9],[120.27,-10],[120.18,-9.5],[120.05,-7]]],
 [1.4,[[120.05,0],[120.65,0],[120.7,-3],[120.68,-6],[120.55,-9],[120.45,-11],[120.3,-8.5],[120.05,-6]]],
 [1.8,eL2.concat([[120.05,-6],[120.05,0]])],
 [2.6,[[120.08,0],[120.24,0],[120.27,-2.5],[120.16,-5.3],[120.08,-6]]],
 [3.4,[[120.08,0],[120.14,0],[120.16,-3],[120.1,-5.5],[120.08,-6]]],
 [0.6,[[121.5,-30],[121.83,-10],[122.1,-1.5],[122.5,-1.5],[122.68,-10],[122.79,-23],[122.95,-28],[123.17,-30],[123.45,-38],[123.83,-43],[124.05,-53],[124.2,-68],[124.23,-80],[124.1,-90],[123,-100],[121.5,-100]]],
 [1,[[121.6,-40],[121.95,-17],[122.05,-4],[122.21,-1.5],[122.4,-2],[122.65,-10],[122.74,-22],[122.85,-42],[123.05,-44],[123.3,-50],[123.6,-62],[123.61,-70],[123.3,-73],[122.8,-73],[121.6,-73]]],
 [1.4,[[121.85,-40],[122.05,-14],[122.15,-4],[122.22,-3.4],[122.4,-5],[122.6,-14],[122.72,-35],[122.74,-55],[122.82,-62],[122.7,-70],[121.85,-70]]],
 [1.8,[[122.1,-30],[122.15,-10],[122.22,-5],[122.4,-9],[122.55,-20],[122.65,-40],[122.68,-55],[122.6,-60],[122.1,-50]]],
 [2.2,ePos2],
 // blues, shelf patch near the surface
 [-0.6,[[121.1,0],[121.3,-3],[121.45,-7],[121.6,-9.5],[121.75,-5],[121.95,0]]],
 [-1,[[121.25,0],[121.5,-3.5],[121.65,-3],[121.8,-1],[121.9,0]]],
 [-1.4,[[121.4,0],[121.6,-1.5],[121.78,0]]],
 // blues
 [-0.6,[[122.6,0],[122.72,-12],[122.9,-14],[123.1,-19],[123.35,-24],[123.6,-29],[123.74,-30],[123.88,-26],[124.15,-33],[124.35,-42],[124.5,-55],[124.6,-60],[124.75,-45],[124.9,-26],[125,-20],[125.1,-30],[125.2,-75],[125.3,-65],[125.5,-70],[125.8,-40],[126.15,-10],[126.15,0]]],
 [-1,[[122.62,0],[122.74,-6],[122.9,-6.5],[123.17,-10],[123.39,-13],[123.61,-18.5],[123.69,-20],[123.88,-13.5],[124.1,-17.5],[124.29,-24],[124.42,-32],[124.53,-38],[124.7,-28],[124.8,-30],[124.94,-18],[125,-16],[125.1,-22],[125.18,-50],[125.23,-70],[125.4,-65],[125.55,-62],[125.75,-44],[125.9,-20],[126.15,-10],[126.15,0]]],
 [-1.4,[[122.68,0],[122.8,-3.5],[123.2,-5],[123.4,-8],[123.65,-11],[123.9,-7.5],[124.15,-10.5],[124.35,-16],[124.53,-21],[124.68,-15],[124.85,-13],[125,-9.5],[125.12,-14],[125.24,-45],[125.3,-58],[125.41,-40],[125.42,0]]],
 [-1.8,[[122.72,0],[123.2,-2.5],[123.6,-7],[123.9,-5],[124.2,-8.5],[124.52,-15],[124.68,-10.5],[124.85,-9.5],[125,-6.5],[125.13,-9],[125.25,-30],[125.3,-56],[125.41,-35],[125.42,0]]],
 [-2.2,[[122.8,0],[123.17,-1.7],[123.61,-5.3],[123.72,-5.7],[123.93,-3.3],[124.23,-6.9],[124.53,-13.3],[124.67,-8.9],[124.86,-8.1],[125,-5.5],[125.13,-8.1],[125.21,-20.8],[125.3,-52],[125.41,-30],[125.42,0]]],
 [-2.6,[[123,-0.7],[123.6,-3.5],[123.95,-2.2],[124.25,-5],[124.53,-9.5],[124.7,-6],[124.9,-5.5],[125,-4],[125.15,-6],[125.25,-25],[125.3,-42],[125.41,-30],[125.42,0]]],
 [-3,[[123.3,-0.6],[124.15,-1.7],[124.53,-5.6],[124.75,-3.7],[124.9,-3.3],[125.1,-3],[125.2,-8],[125.3,-30],[125.41,-20],[125.42,0]]],
 [-3.4,[[123.9,-0.7],[124.5,-2.5],[125,-1.5],[125.2,-3],[125.28,-20],[125.4,-15],[125.42,0]]],
 [-3.8,[[124.5,-0.9],[125.2,-1],[125.28,-8],[125.4,-8],[125.42,0]]],
 [-1,[[125.46,0],[125.53,-50],[125.6,-52],[125.75,-42],[125.88,-22],[126.15,-10],[126.15,0]]],
 [-1.8,[[125.47,0],[125.55,-38],[125.65,-42],[125.75,-34],[125.82,-15],[125.82,0]]],
 [-2.6,[[125.47,0],[125.56,-28],[125.68,-32],[125.78,-15],[125.82,0]]],
 [-3.4,[[125.48,0],[125.58,-15],[125.72,-14],[125.84,0]]],
 [-1.4,[[125.86,0],[125.93,0],[125.96,-22],[125.88,-30],[125.84,-30]]],
 [-3.8,[[125.93,0],[126.15,0],[126.15,-10],[126.1,-16],[126,-18]]],
 [3.8,[[126.05,0],[126.09,0],[126.09,-15],[126.05,-18]]]
];
var darkE = [
 [[119.92,0],[120.03,0],[120.03,-6],[119.92,-6]],
 [[126,0],[126.03,0],[126.04,-5],[126.01,-5]]
];
var linesE = [
 eZero1,eZero2,eZero3,ePos1,ePos2,eL2,eL1,eNeg1,eNeg1b,eNeg2,eNeg2b,eNeg3,
 [[120.11,-7.3],[120.4,-14],[120.67,-16.4],[120.92,-17.5]],[[121.08,-17.6],[121.19,-17.3]],
 [[125.21,-20],[125.3,-39.8],[125.39,-15],[125.45,-4],[125.5,-25],[125.55,-42.2]],
 [[125.39,-63.3],[125.41,-12.9],[125.44,-63]],[[125.46,-40],[125.46,-60]],[[125.43,-62],[125.43,-35]],
 [[125.76,-36.7],[125.84,-31.9],[125.85,-18]],[[125.83,-38],[125.85,-14],[125.89,-0.8],[125.93,-12],[125.97,-23.2],[125.95,-17],[125.9,-22],[125.92,-28]],
 [[125.99,0],[126,-8]],[[126.03,0],[126.03,-6]],[[126.06,0],[126.06,-20]],[[126.09,0],[126.09,-14]],
 [[119.87,0],[119.87,-6]],[[120.05,0],[120.05,-6]],
 [[121.4,-3.5],[121.6,-1.5],[121.78,-0.4]],[[121.53,-3.8],[121.7,-2.5],[122,-0.3]]
];
var labelsE = [["2",120.52,-4.9],["1",120.85,-7.2],["-1",121.5,-2.5],["2",122.35,-19.2],["0",123.61,-34.3],["1",122.95,-47],["-2",124.4,-10],["-1",124.48,-26.8],["-3",125.08,-3.7],["-3",125.67,-21.8],["-2",125.7,-41]];

// --- panel F contours
var fZero = [[121.34,-4.9],[121.6,-4.3],[122.17,-5.3],[122.7,-4.5],[123.02,-3]];
var fZeroB = [[123.42,-2.2],[123.65,-2],[124.12,-2.5],[124.71,-4.1],[125,-5.3],[125.21,-2.5],[125.27,0]];
var fRed3 = [[120.04,-1.7],[120.16,-4.9],[120.43,-8.1],[120.66,-7.9]];
var fRed3b = [[120.96,-4.1],[121.28,-0.6]];
var fRed1 = [[120.1,-5.7],[120.37,-11.7],[120.63,-9.8],[121.05,-12]];
var fRed0 = [[120.16,-9.7],[120.43,-12.9],[120.66,-11.9],[120.93,-15.6],[121.28,-16.8],[121.41,-12.9],[121.28,-8.1],[121.31,-4.9],[121.64,-2.5],[122.29,-1]];
var fRed2 = [[120.99,-7.3],[121.16,-4.1],[121.46,-1],[121.9,0]];
var fPatch = [[121.49,-11.7],[121.73,-12.5],[121.81,-9.8],[122.14,-10.1],[122.32,-13.7]];
var fPatchB = [[122.23,-19],[122.22,-21.6],[122.52,-29.5],[122.56,-42.2],[122.32,-47.5],[122.17,-43.8],[122.05,-24.8],[122.02,-25.2],[121.49,-11.7]];
var fHole = [[122.02,-25.2],[122.17,-19.2],[122.14,-16],[121.99,-14.8],[121.96,-17.6],[122.02,-25.2]];
var fNeg = [[122.63,-30.3],[122.82,-27.5],[123.17,-27]];
var fNegB = [[123.64,-24],[123.88,-23.2],[124.41,-24.1],[124.52,-22],[124.62,-27.1],[124.56,-44.2],[124.41,-30.7],[124.27,-38.3],[124.06,-43],[123.71,-45.8],[123.42,-43.4],[123,-39.8],[122.79,-41],[122.64,-33.5],[122.63,-30.3]];
var fOut = [[124.95,-92.2],[124.77,-20.8],[125.04,-9.7],[125.18,-7.7],[125.33,-12]];
var fRing1 = [[124.86,-21.6],[124.98,-41.4],[125.09,-54],[125.2,-44.6],[125.29,-15],[125.18,-11],[125,-14],[124.86,-21.6]];
var fRing2 = [[124.9,-22],[125,-34],[125.11,-41.4],[125.19,-33],[125.26,-16],[125.2,-12],[125.02,-16],[124.9,-22]];
var fRing3 = [[124.98,-26],[125.14,-34.3],[125.22,-22],[125.24,-16],[125.19,-13.5],[125.04,-18]];

var bandsF = [
 [0.2,[[119.95,0],[120,-5],[120.2,-10],[120.43,-13],[120.66,-13],[120.93,-16],[121.28,-17],[121.41,-13],[121.28,-8],[121.34,-4.9],[122.17,-5.3],[122.7,-4.5],[123.26,-2.7],[123.65,-2],[124.12,-2.5],[124.71,-4.1],[125,-5.3],[125.21,-2.5],[125.27,0]]],
 [0.6,[[120,0],[120.1,-6.5],[120.2,-10],[120.43,-12.5],[120.66,-11.5],[120.93,-14.5],[121.25,-15],[121.3,-12],[121.2,-9],[121.25,-4],[121.65,-2],[122.3,-1],[122.6,0]]],
 [1,[[120.02,0],[120.1,-6],[120.37,-11.7],[120.63,-9.8],[121.05,-12],[121.15,-8],[121.16,-4.1],[121.46,-1.5],[122,-0.3],[122.05,0]]],
 [1.4,[[120.03,0],[120.1,-5.7],[120.37,-11],[120.63,-9],[120.95,-10],[121.05,-7],[121.3,-1.5],[121.9,-0.2],[122,0]]],
 [1.8,[[120.03,0],[120.13,-5.5],[120.4,-10],[120.65,-8.8],[120.9,-8],[121,-7],[121.2,-2],[121.4,-1],[121.5,0]]],
 [2.6,[[120.03,0],[120.14,-5],[120.43,-9],[120.66,-8.6],[120.95,-5],[121.25,-1],[121.3,0]]],
 [3.4,[[120.04,0],[120.16,-4.9],[120.43,-8.1],[120.66,-7.9],[120.96,-4.1],[121.28,-0.6],[121.3,0]]],
 [3.8,[[120.05,0],[120.2,-4.5],[120.43,-7.4],[120.66,-7.2],[120.93,-3.8],[121.2,0]]],
 // big blue body
 [-0.6,[[122.63,-31],[122.8,-22],[123.3,-20],[124,-19],[124.5,-18],[124.7,-20],[124.78,-30],[124.76,-60],[124.78,-85],[124.88,-100],[122.65,-100],[122.6,-60],[122.58,-40]]],
 [-0.2,[[124.41,-46],[124.44,-46],[124.46,-80],[124.42,-85]]],
 [-1,[[122.62,-29],[122.85,-23],[123.5,-22],[124.4,-22],[124.5,-20],[124.65,-24],[124.65,-50],[124.55,-58],[124.5,-50],[124.42,-40],[124.3,-46],[124.1,-52],[123.7,-53],[123.2,-48],[122.75,-45],[122.62,-36]]],
 [-1.4,[[122.66,-31],[122.9,-29],[123.3,-28],[123.9,-25.5],[124.3,-25.5],[124.4,-27],[124.35,-34],[124.1,-40],[123.7,-43],[123.3,-41],[122.9,-36],[122.7,-35]]],
 [-1.8,[[123.55,-32],[123.8,-29],[124,-30],[124,-34],[123.8,-36],[123.55,-36]]],
 [-1,[[121.45,-19],[121.6,-18.5],[121.75,-24],[121.92,-36],[122.07,-46],[122,-50],[121.5,-30]]],
 [-1,[[120.45,-14.5],[120.9,-16.5],[120.95,-17.7],[120.5,-16.5]]],
 // patch
 [0.2,fPatch.concat(fPatchB)],[-0.2,fHole],
 [0.6,[[122.2,-28],[122.35,-29],[122.41,-38],[122.35,-40.5],[122.22,-35]]],
 [0.6,[[121.55,-12],[121.8,-15],[121.88,-19],[121.75,-20]]],
 [1,[[121.63,-13.5],[121.7,-14.5],[121.75,-17],[121.7,-16.5]]],
 [-0.6,[[121.3,-6],[121.6,-5],[121.78,-7],[121.75,-11],[121.5,-11],[121.4,-9]]],
 [-1.4,[[121.6,-6.5],[121.72,-6],[121.74,-9],[121.65,-10],[121.58,-8]]],
 // oval
 [0.2,fOut.concat([[125.35,-40],[125.2,-78],[124.97,-92]])],
 [0.6,[[124.82,-21],[125.04,-10],[125.18,-8.5],[125.32,-13],[125.3,-50],[125.15,-75],[125.03,-62],[124.92,-40]]],
 [1.4,[[124.84,-21],[124.97,-45],[125.09,-60],[125.22,-48],[125.3,-14],[125.18,-10],[125,-13]]],
 [1.8,fRing1],[2.6,[[124.88,-21.8],[124.99,-38],[125.1,-48],[125.2,-40],[125.27,-15],[125.19,-11.5],[125.01,-15]]],
 [3,fRing2],[3.4,[[124.93,-24],[125.05,-34],[125.13,-38],[125.21,-28],[125.25,-16],[125.19,-13],[125.04,-17]]],
 [3.8,fRing3],
 // right side
 [-0.6,[[125.28,-30],[125.33,-25],[125.33,-60],[125.29,-60]]],
 [0.6,[[125.33,-20],[125.36,-10],[125.5,-8],[125.55,-38],[125.43,-58],[125.38,-64]]],
 [1.4,[[125.39,-9],[125.46,-9],[125.47,-25],[125.44,-30],[125.4,-25]]],
 [2.2,[[125.41,-11],[125.44,-11],[125.45,-20],[125.42,-22]]],
 [-0.6,[[125.65,-25],[125.7,-10],[125.76,-6],[125.78,-15],[125.73,-32],[125.68,-30]]],
 [-1,[[125.69,-24],[125.74,-8],[125.76,-10],[125.71,-28]]],
 [0.2,[[125.8,0],[125.97,0],[125.88,-25],[125.8,-30]]],
 [-0.6,[[126.03,0],[126.15,0],[126.15,-10],[126.07,-12]]],
 [-1.8,[[126.1,0],[126.14,0],[126.14,-10],[126.1,-10]]]
];
var darkF = [];
var linesF = [
 fZero,fZeroB,fRed3,fRed3b,fRed1,fRed0,fRed2,fPatch,fPatchB,fHole,fNeg,fNegB,fOut,fRing1,fRing2,fRing3,
 [[121.28,-0.6],[121.6,-0.4]],
 [[120.2,-14],[120.45,-15.3]],[[120.45,-15],[120.75,-17.3]],
 [[121.49,-19],[121.61,-18.4],[121.76,-23.2],[121.93,-33.5],[122.08,-45]],
 [[121.61,-7],[121.67,-6.5],[121.7,-8],[121.65,-10],[121.61,-7]],
 [[121.65,-13.5],[121.7,-15],[121.73,-16.5],[121.68,-15],[121.65,-13.5]],
 [[125.17,-77.1],[125.2,-44.6]],
 [[125.3,-57.7],[125.31,-25]],[[125.29,-30],[125.31,-57]],[[125.39,-63.7],[125.38,-32]],
 [[125.35,-20],[125.38,-8],[125.44,-8],[125.5,-25],[125.55,-54.9]],[[125.45,-32],[125.47,-27],[125.49,-9]],
 [[125.43,0],[125.5,-3],[125.57,-15]],
 [[125.75,-4],[125.66,-25],[125.7,-30],[125.75,-5]],
 [[125.83,0],[125.97,-3],[125.88,-20],[125.92,-26],[125.89,-35]],[[125.84,-11],[125.94,-4],[125.85,-33]],
 [[126.02,0],[126,-8],[126.02,-13]],[[126.04,0],[126.1,-10]],[[126.09,0],[126.12,-10]],
 [[119.93,0],[119.93,-6]],[[119.96,0],[119.96,-6]],[[119.98,0],[119.98,-6]],[[120,0],[120.03,-6]]
];
var labelsF = [["3",120.8,-6.4],["1",121.16,-11.6],["0",123.26,-2.7],["0",122.36,-17.5],["-1",123.4,-26],["0",124.87,-15],["3",124.98,-25.2],["-1",125.74,-23.2]];

// isolated little column offshore: lon, depth, and colour per panel
var offshoreLon = 126.44, offshoreDepth = -7;
var offshoreColor = {A:"#00e4f0",B:"#1030d0",C:"#222",D:"#222",E:"#2a2a88",F:"#777"};

// --- colour bars
var cbJetTicks = [0,5,10,15];
var cbVelTicks = [-5,0,5];
var cbFluxTicks = [-4,-2,0,2,4];

var jet = d3.scaleLinear()
  .domain([0,1.875,5.625,9.375,13.125,15])
  .range(["#00008f","#0000ff","#00ffff","#ffff00","#ff0000","#800000"])
  .clamp(true);
var velColor = d3.scaleLinear().domain([-5,0,5]).range(["#0000ff","#ffffff","#ff0000"]);
var fluxColor = d3.scaleLinear().domain([-4,0,4]).range(["#0000ff","#ffffff","#ff0000"]);

var panels = [
 {id:"A",left:105.5,top:74,bottom:682,ylab:true,xlab:false,lx:3,ly:29,lines:linesA,labels:labelsA,grid:[aLon,aDepth,aValues]},
 {id:"B",left:791,top:74,bottom:682,ylab:false,xlab:false,lx:790,ly:30,lines:linesB,labels:labelsB,grid:[bLon,bDepth,bValues]},
 {id:"C",left:105.5,top:782,bottom:1390,ylab:true,xlab:false,lx:4,ly:767,lines:linesC,labels:labelsC,bands:bandsC,dark:darkC,color:velColor},
 {id:"D",left:791,top:782,bottom:1390,ylab:false,xlab:false,lx:790,ly:768,lines:linesD,labels:labelsD,bands:bandsD,dark:darkD,color:velColor},
 {id:"E",left:105.5,top:1486,bottom:2094,ylab:true,xlab:true,lx:3,ly:1470,lines:linesE,labels:labelsE,bands:bandsE,dark:darkE,color:fluxColor},
 {id:"F",left:791,top:1486,bottom:2094,ylab:false,xlab:true,lx:791,ly:1470,lines:linesF,labels:labelsF,bands:bandsF,dark:darkF,color:fluxColor}
];
var panelWidth = 666;
var plainNumber = function(d) { return "" + d; };

var svg = d3.select("#fig");

panels.forEach(function(p) {
  var x = d3.scaleLinear().domain(lonExtent).range([p.left, p.left + panelWidth]);
  var y = d3.scaleLinear().domain(depthExtent).range([p.bottom, p.top]);
  var line = d3.line().x(function(d) { return x(d[0]); }).y(function(d) { return y(d[1]); });
  var smooth = d3.line().x(function(d) { return x(d[0]); }).y(function(d) { return y(d[1]); })
    .curve(d3.curveCatmullRom.alpha(0.5));
  var smoothClosed = d3.line().x(function(d) { return x(d[0]); }).y(function(d) { return y(d[1]); })
    .curve(d3.curveCatmullRomClosed.alpha(0.5));

  svg.append("clipPath").attr("id", "sea" + p.id).append("path").attr("d", line(bathy) + "Z");
  var g = svg.append("g");
  var fill = g.append("g").attr("clip-path", "url(#sea" + p.id + ")");

  if (p.grid) {
    // smooth jet field: nested contour levels over the read grid
    var lons = p.grid[0], deps = p.grid[1], rows = p.grid[2];
    var flat = [];
    rows.forEach(function(r) { r.forEach(function(v) { flat.push(v); }); });
    var ix = d3.scaleLinear().domain(d3.range(lons.length)).range(lons).clamp(true);
    var iy = d3.scaleLinear().domain(d3.range(deps.length)).range(deps).clamp(true);
    var cont = d3.contours().size([lons.length, deps.length]).thresholds(d3.range(0, 15.6, 0.12));
    var geo = d3.geoPath(d3.geoTransform({point: function(a, b) {
      this.stream.point(x(ix(a - 0.5)), y(iy(b - 0.5)));
    }}));
    fill.selectAll("path").data(cont(flat)).enter().append("path")
      .attr("d", geo)
      .attr("fill", function(d) { return jet(d.value); });
  } else {
    // stepped shading: pale blue base then nested bands
    fill.append("path").attr("d", line(bathy) + "Z").attr("fill", p.color(-p.color.domain()[2] * 0.05));
    fill.selectAll("path.band").data(p.bands).enter().append("path")
      .attr("class", "band")
      .attr("d", function(d) { return smoothClosed(d[1]); })
      .attr("fill", function(d) { return p.color(d[0]); });
    fill.selectAll("path.dark").data(p.dark).enter().append("path")
      .attr("class", "dark")
      .attr("d", function(d) { return line(d) + "Z"; })
      .attr("fill", "#000");
  }

  // offshore column
  g.append("line")
    .attr("x1", x(offshoreLon)).attr("x2", x(offshoreLon))
    .attr("y1", y(0)).attr("y2", y(offshoreDepth))
    .attr("stroke", offshoreColor[p.id]).attr("stroke-width", 2);

  // contour lines and their labels
  g.append("g").selectAll("path").data(p.lines).enter().append("path")
    .attr("d", function(d) { return smooth(d); })
    .attr("fill", "none")
    .attr("stroke", "#111")
    .attr("stroke-width", 1.3);
  g.append("g").selectAll("text").data(p.labels).enter().append("text")
    .attr("x", function(d) { return x(d[1]); })
    .attr("y", function(d) { return y(d[2]) + 14; })
    .attr("text-anchor", "middle")
    .style("font-size", "41px")
    .text(function(d) { return d[0]; });

  // box and axes
  g.append("g").attr("transform", "translate(0," + p.bottom + ")")
    .call(d3.axisBottom(x).tickValues(lonTicks).tickSizeInner(-6).tickSizeOuter(0).tickPadding(12).tickFormat(p.xlab ? plainNumber : ""));
  g.append("g").attr("transform", "translate(" + p.left + ",0)")
    .call(d3.axisLeft(y).tickValues(depthTicks).tickSizeInner(-6).tickSizeOuter(0).tickPadding(9).tickFormat(p.ylab ? plainNumber : ""));
  g.append("g").attr("transform", "translate(" + (p.left + panelWidth) + ",0)")
    .call(d3.axisRight(y).tickValues(depthTicks).tickSizeInner(-6).tickSizeOuter(0).tickFormat(""));
  g.selectAll(".tick text").style("font-size", "29.5px").style("font-family", "Liberation Sans");
  g.selectAll(".domain, .tick line").attr("stroke", "#000").attr("stroke-width", 1.6);
  g.append("rect").attr("x", p.left).attr("y", p.top).attr("width", panelWidth).attr("height", p.bottom - p.top)
    .attr("fill", "none").attr("stroke", "#000").attr("stroke-width", 2.4);

  g.append("text").attr("x", p.lx).attr("y", p.ly)
    .style("font-size", "28px").style("font-weight", "bold").text(p.id);

  if (p.ylab) {
    g.append("text")
      .attr("transform", "translate(26," + ((p.top + p.bottom) / 2 + 2) + ")rotate(-90)")
      .attr("text-anchor", "middle")
      .style("font-size", "28px").style("font-weight", "bold").style("letter-spacing", "0.8px")
      .text("Depth (m)");
  }
  if (p.xlab) {
    var t = g.append("text").attr("x", p.left + panelWidth / 2 - 3).attr("y", 2167)
      .attr("text-anchor", "middle")
      .style("font-size", "29px").style("font-weight", "bold");
    t.append("tspan").text("Longitude ( ");
    t.append("tspan").attr("dy", -9).style("font-size", "21px").text("o");
    t.append("tspan").attr("dy", 9).text("E)");
  }
});

// --- titles
svg.append("text").attr("x", 449).attr("y", 48).attr("text-anchor", "middle")
  .style("font-family", "Noto Sans").style("font-size", "60px").style("font-weight", "bold").text("January");
svg.append("text").attr("x", 1163).attr("y", 54).attr("text-anchor", "middle")
  .style("font-family", "Noto Sans").style("font-size", "60px").style("font-weight", "bold").text("July");

// --- colour bars
var barLeft = 1485, barWidth = 36;
function colorBar(top, bottom, domain, nSteps, color, ticks) {
  var s = d3.scaleLinear().domain(domain).range([bottom, top]);
  var step = (domain[1] - domain[0]) / nSteps;
  var cells = d3.range(nSteps).map(function(i) { return domain[0] + i * step; });
  var g = svg.append("g");
  g.selectAll("rect").data(cells).enter().append("rect")
    .attr("x", barLeft).attr("width", barWidth)
    .attr("y", function(d) { return s(d + step) - 0.3; })
    .attr("height", function(d) { return s(d) - s(d + step) + 0.6; })
    .attr("fill", function(d) { return color(d + step / 2); });
  g.append("rect").attr("x", barLeft).attr("y", top).attr("width", barWidth).attr("height", bottom - top)
    .attr("fill", "none").attr("stroke", "#777").attr("stroke-width", 1);
  var ax = g.append("g").attr("transform", "translate(" + (barLeft + barWidth) + ",0)")
    .call(d3.axisRight(s).tickValues(ticks).tickSizeInner(-6).tickSizeOuter(0).tickPadding(5).tickFormat(plainNumber));
  ax.select(".domain").remove();
  ax.selectAll(".tick line").attr("stroke", "#555");
  ax.selectAll(".tick text").style("font-size", "35px").style("font-weight", "bold").style("font-family", "Liberation Sans");
  g.selectAll(".tick line").filter(function(d) { return d === domain[0] || d === domain[1]; }).remove();
}
colorBar(74, 683, [0, 15], 64, jet, cbJetTicks);
colorBar(782.5, 1391, [-5, 5], 20, velColor, cbVelTicks);
colorBar(1486.5, 2096, [-4, 4], 20, fluxColor, cbFluxTicks);

// --- units
svg.append("text").attr("x", 1473).attr("y", 46).style("font-size", "32px").style("font-weight", "bold").text("\u03bcM");
svg.append("text").attr("x", 1458).attr("y", 752).style("font-size", "37px").style("font-weight", "bold").text("cm/s");
var u = svg.append("text").attr("x", 1349).attr("y", 1456).style("font-size", "37px").style("font-weight", "bold");
u.append("tspan").text("x10 mmol m");
u.append("tspan").attr("dy", -12).style("font-size", "25px").text("-2");
u.append("tspan").attr("dy", 12).text(" s");
u.append("tspan").attr("dy", -12).style("font-size", "25px").text("-1");
</script>
</body>
</html>
